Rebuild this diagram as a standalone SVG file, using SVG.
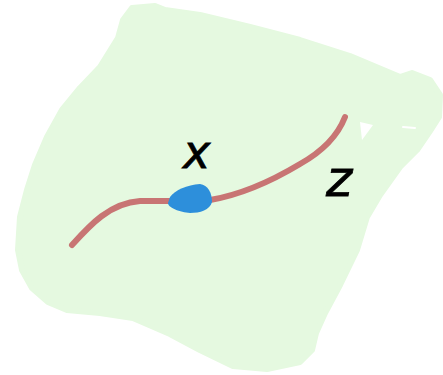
<svg xmlns="http://www.w3.org/2000/svg" width="443" height="375" viewBox="0 0 443 375">
<style>
.lbl{font-family:"DejaVu Sans","Liberation Sans",sans-serif;font-style:italic;fill:#000;stroke:#000;stroke-width:0.8}
</style>
<rect width="443" height="375" fill="#fff"/>
<g id="manifold">
<path d="M132,8 L155,6 L165,10 L200,15 L250,27 L300,40 L350,56 L400,77 L412,73 L430,80 L440,95 L439,117 L432,128 L417,150 L400,167 L380,195 L367,217 L357,250 L340,285 L325,313 L316,333 L312,350 L300,362 L267,369 L233,366 L200,350 L170,334 L133,318 L100,313 L67,310 L48,302 L32,288 L22,270 L18,250 L20,217 L27,190 L35,165 L47,137 L62,110 L80,88 L100,67 L118,38 L123,20 Z" fill="#e5f9e0" stroke="#e5f9e0" stroke-width="6" stroke-linejoin="round"/>
<path d="M360,122 L373,125 L362,140 Z" fill="#fff"/>
<path d="M403,127 L415,128" stroke="#fff" stroke-width="2" stroke-linecap="round"/>
</g>
<g id="curve">
<path d="M72,245 C90,225 110,203 140,201 L170,201 L210,200 C240,195 270,182 300,164 C325,150 338,135 345,117" fill="none" stroke="#c87574" stroke-width="6" stroke-linecap="round"/>
</g>
<g id="point">
<path d="M170,197 C175,190 187,185 200,184 C208,185 212,193 212,202 C210,210 200,213 190,213 C180,212 168,208 168,203 Z" fill="#2d8fdb"/>
</g>
<g id="labels">
<text class="lbl" x="183" y="168" font-size="46">x</text>
<text class="lbl" x="326" y="196" font-size="50">z</text>
</g>
</svg>
